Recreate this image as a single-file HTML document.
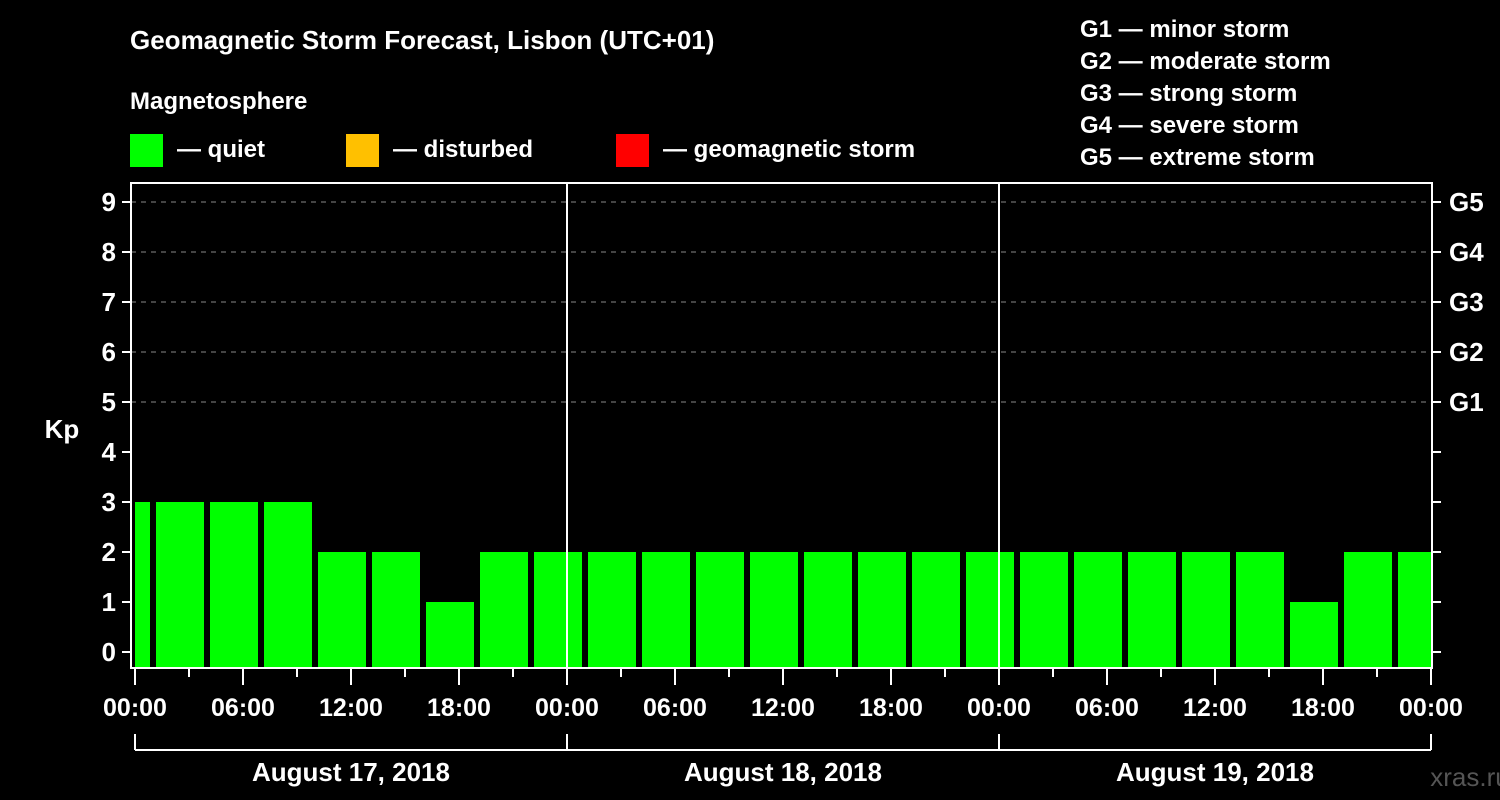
<!DOCTYPE html>
<html><head><meta charset="utf-8"><style>
body{margin:0;background:#000;}
svg{display:block;font-family:"Liberation Sans",Arial,sans-serif;font-weight:bold;}
</style></head><body>
<svg id="c" width="1500" height="800" viewBox="0 0 1500 800">
<rect width="1500" height="800" fill="#000"/>
<text x="130" y="49" font-size="26" fill="#fff">Geomagnetic Storm Forecast, Lisbon (UTC+01)</text>
<text x="130" y="109" font-size="24" fill="#fff">Magnetosphere</text>
<g><rect x="130" y="134" width="33" height="33" fill="#00ff00"/><text x="177" y="157" font-size="24" fill="#fff">— quiet</text></g>
<g><rect x="346" y="134" width="33" height="33" fill="#ffc000"/><text x="393" y="157" font-size="24" fill="#fff">— disturbed</text></g>
<g><rect x="616" y="134" width="33" height="33" fill="#ff0000"/><text x="663" y="157" font-size="24" fill="#fff">— geomagnetic storm</text></g>
<g font-size="24" fill="#fff">
<text x="1080" y="37">G1 — minor storm</text>
<text x="1080" y="69">G2 — moderate storm</text>
<text x="1080" y="101">G3 — strong storm</text>
<text x="1080" y="133">G4 — severe storm</text>
<text x="1080" y="165">G5 — extreme storm</text>
</g>
<text x="62" y="438" font-size="26" fill="#fff" text-anchor="middle">Kp</text>
<text x="1470" y="786" font-size="26" fill="#555" text-anchor="middle" font-weight="normal">xras.ru</text>
<g id="plot"></g>
</svg>
<script>
const kpValues=[3,3,3,3,2,2,1,2,2,2,2,2,2,2,2,2,2,2,2,2,2,2,1,2,2];
const firstBarStartHour=-2.1667;
const yTicks=[0,1,2,3,4,5,6,7,8,9];
const gLabels=['G1','G2','G3','G4','G5'];
const xTickLabels=['00:00','06:00','12:00','18:00'];
const dayLabels=['August 17, 2018','August 18, 2018','August 19, 2018'];
const NS='http://www.w3.org/2000/svg';
const L=131,R=1432,T=183,B=668,X0=135,X1=1431;
const x=h=>X0+h*(X1-X0)/72;
const y=v=>652-v*50;
const p=document.getElementById('plot');
function mk(t,a){const e=document.createElementNS(NS,t);for(const k in a)e.setAttribute(k,a[k]);p.appendChild(e);return e;}
// grid
for(let v=5;v<=9;v++){const e=mk('line',{x1:L,x2:R,y1:y(v),y2:y(v),stroke:'#888','stroke-dasharray':'5,5','stroke-width':1});

}
// bars
kpValues.forEach((v,i)=>{const h0=Math.max(0,firstBarStartHour+3*i+0.3333),h1=Math.min(72,firstBarStartHour+3*i+3);
if(h1<=h0)return;
const col=v>=5?'#ff0000':(v>=4?'#ffc000':'#00ff00');
const e=mk('rect',{x:x(h0),y:y(v),width:x(h1)-x(h0),height:B-y(v),fill:col});

});
// day separators
[24,48].forEach(h=>{const e=mk('line',{x1:x(h),x2:x(h),y1:T,y2:B,stroke:'#fff','stroke-width':2});

});
// frame
const f=mk('rect',{x:L,y:T,width:R-L,height:B-T,fill:'none',stroke:'#fff','stroke-width':2});


// y ticks
yTicks.forEach(v=>{mk('line',{x1:122,x2:L,y1:y(v),y2:y(v),stroke:'#fff','stroke-width':2});
mk('line',{x1:R,x2:1441,y1:y(v),y2:y(v),stroke:'#fff','stroke-width':2});
const t=mk('text',{x:116,y:y(v)+9,'font-size':26,fill:'#fff','text-anchor':'end'});t.textContent=v;


if(v>=5){const g=mk('text',{x:1449,y:y(v)+9,'font-size':26,fill:'#fff'});g.textContent=gLabels[v-5];

}});
// x ticks
for(let h=0;h<=72;h+=3){const major=h%6===0;mk('line',{x1:x(h),x2:x(h),y1:B,y2:major?685:677,stroke:'#fff','stroke-width':2});
if(major){const t=mk('text',{x:x(h),y:716,'font-size':25,fill:'#fff','text-anchor':'middle'});t.textContent=h%24===0?'00:00':xTickLabels[(h%24)/6];

}}
// day bracket
mk('line',{x1:X0,x2:X1,y1:750,y2:750,stroke:'#fff','stroke-width':2});
[0,24,48,72].forEach(h=>mk('line',{x1:x(h),x2:x(h),y1:734,y2:750,stroke:'#fff','stroke-width':2}));
dayLabels.forEach((d,i)=>{const t=mk('text',{x:x(24*i+12),y:781,'font-size':26,fill:'#fff','text-anchor':'middle'});t.textContent=d;

});
</script>
</body></html>
